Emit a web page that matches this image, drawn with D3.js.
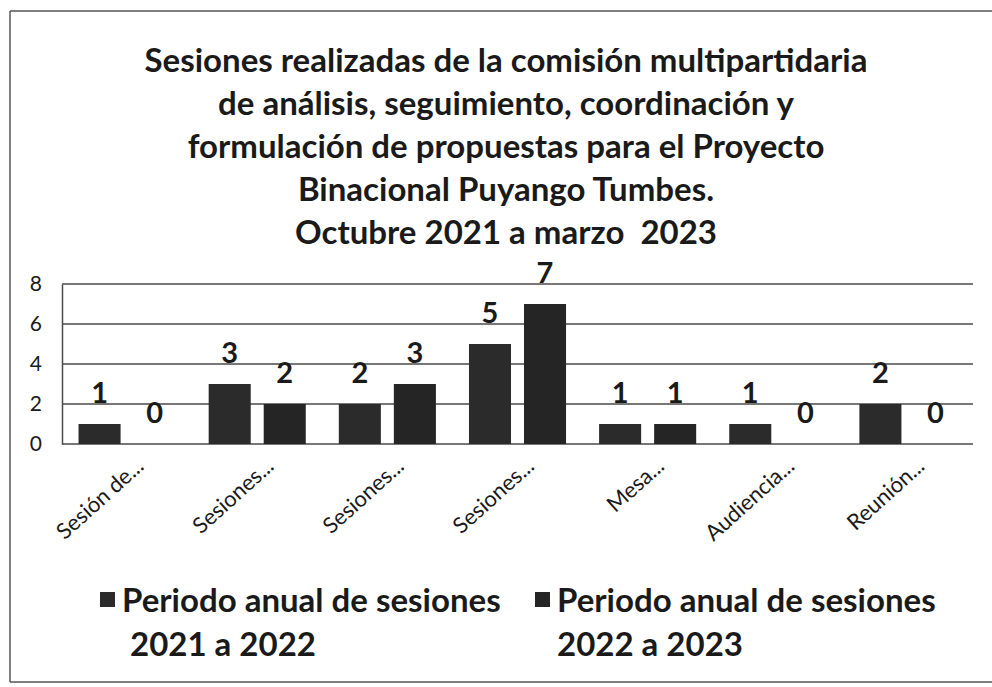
<!DOCTYPE html>
<html>
<head>
<meta charset="utf-8">
<script src="https://cdn.jsdelivr.net/npm/d3@7"></script>
<style>
  body { margin: 0; background: #fff; overflow: hidden; }
  svg { display: block; font-family: Lato, "Open Sans", sans-serif; }
</style>
</head>
<body>
<div id="chart"></div>
<script>
const categories = ["Sesión de...", "Sesiones...", "Sesiones...", "Sesiones...", "Mesa...", "Audiencia...", "Reunión..."];
const periodo1 = [1, 3, 2, 5, 1, 1, 2];
const periodo2 = [0, 2, 3, 7, 1, 0, 0];
const seriesNames = [["Periodo anual de sesiones", "2021 a 2022"], ["Periodo anual de sesiones", "2022 a 2023"]];
const yTicks = [0, 2, 4, 6, 8];
const titleLines = [
    "Sesiones realizadas de la comisión multipartidaria",
    "de análisis, seguimiento, coordinación y",
    "formulación de propuestas para el Proyecto",
    "Binacional Puyango Tumbes.",
    "Octubre 2021 a marzo  2023"
];

const outerWidth = 992, outerHeight = 687;
const margin = { left: 62, top: 284, right: 19, bottom: 243 };
const innerWidth  = outerWidth - margin.left - margin.right;
const innerHeight = outerHeight - margin.top - margin.bottom;
const colors = ["#2b2b2b", "#252525"];

const svg = d3.select("#chart").append("svg")
    .attr("width", outerWidth)
    .attr("height", outerHeight);

// scanned frame, right side is cut off in the scan
const frame = [[10, 11, 992, 11], [10, 11, 10, 682], [10, 682, 992, 682]];
svg.selectAll("line.frame")
    .data(frame)
    .enter().append("line")
    .attr("class", "frame")
    .attr("x1", d => d[0]).attr("y1", d => d[1])
    .attr("x2", d => d[2]).attr("y2", d => d[3])
    .attr("stroke", "#555")
    .attr("stroke-width", 1.5);

// title
svg.append("text")
    .attr("text-anchor", "middle")
    .attr("font-weight", "bold")
    .attr("font-size", 33)
    .attr("fill", "#1a1a1a")
    .selectAll("tspan")
    .data(titleLines)
    .enter().append("tspan")
    .attr("x", 506)
    .attr("y", (d, i) => 72 + i * 43)
    .style("white-space", "pre")
    .text(d => d);

const x0 = d3.scaleBand()
    .domain(d3.range(categories.length))
    .range([0, innerWidth])
    .paddingInner(0.254)
    .paddingOuter(0.127);

const x1 = d3.scaleBand()
    .domain([0, 1])
    .range([0, x0.bandwidth()])
    .paddingInner(0.236);

const y = d3.scaleLinear()
    .domain([0, 8])
    .range([innerHeight, 0]);

const g = svg.append("g")
    .attr("transform", "translate(" + margin.left + "," + margin.top + ")");

// gridlines
g.selectAll("line.grid")
    .data(yTicks)
    .enter().append("line")
    .attr("class", "grid")
    .attr("x1", 0).attr("x2", innerWidth)
    .attr("y1", d => y(d)).attr("y2", d => y(d))
    .attr("stroke", "#4a4a4a")
    .attr("stroke-width", 1.5);

// y axis
const yAxis = g.append("g")
    .call(d3.axisLeft(y).tickValues(yTicks).tickSize(0).tickPadding(24).tickFormat(d3.format("d")));
yAxis.select(".domain").attr("stroke", "#4a4a4a").attr("stroke-width", 1.5);
yAxis.selectAll("text")
    .attr("font-size", 21)
    .attr("font-family", "Lato, sans-serif")
    .attr("fill", "#1a1a1a")
    .attr("text-anchor", "middle")
    .attr("dx", "-0.1em");

const rows = categories.map((c, i) => [periodo1[i], periodo2[i]]);

const groups = g.selectAll("g.cat")
    .data(rows)
    .enter().append("g")
    .attr("class", "cat")
    .attr("transform", (d, i) => "translate(" + x0(i) + ",0)");

groups.selectAll("rect")
    .data(d => d)
    .enter().append("rect")
    .attr("x", (d, j) => x1(j))
    .attr("y", d => y(d))
    .attr("width", x1.bandwidth())
    .attr("height", d => innerHeight - y(d))
    .attr("fill", (d, j) => colors[j]);

groups.selectAll("text")
    .data(d => d)
    .enter().append("text")
    .attr("x", (d, j) => x1(j) + x1.bandwidth() / 2)
    .attr("y", d => y(d) - 21)
    .attr("text-anchor", "middle")
    .attr("font-size", 29)
    .attr("font-weight", "bold")
    .attr("fill", "#1a1a1a")
    .text(d => d);

// category labels
g.selectAll("text.cat")
    .data(categories)
    .enter().append("text")
    .attr("class", "cat")
    .attr("transform", (d, i) => "translate(" + (x0(i) + x0.bandwidth() / 2 + 18) + "," + (innerHeight + 24) + ") rotate(-42)")
    .attr("text-anchor", "end")
    .attr("font-size", 22)
    .attr("fill", "#1a1a1a")
    .text(d => d);

// legend
const legendX = [100, 535];
const line2X = [30, 22];
const legend = svg.selectAll("g.legend")
    .data(seriesNames)
    .enter().append("g")
    .attr("class", "legend")
    .attr("transform", (d, i) => "translate(" + legendX[i] + ",0)");

legend.append("rect")
    .attr("x", 0).attr("y", 592)
    .attr("width", 15).attr("height", 15)
    .attr("fill", (d, i) => colors[i]);

legend.append("text")
    .attr("font-size", 33)
    .attr("font-weight", "bold")
    .attr("fill", "#1a1a1a")
    .each(function(d, i) {
        d3.select(this).selectAll("tspan")
            .data(d)
            .enter().append("tspan")
            .attr("x", (t, j) => j === 0 ? 22 : line2X[i])
            .attr("y", (t, j) => 612 + j * 44)
            .text(t => t);
    });
</script>
</body>
</html>
